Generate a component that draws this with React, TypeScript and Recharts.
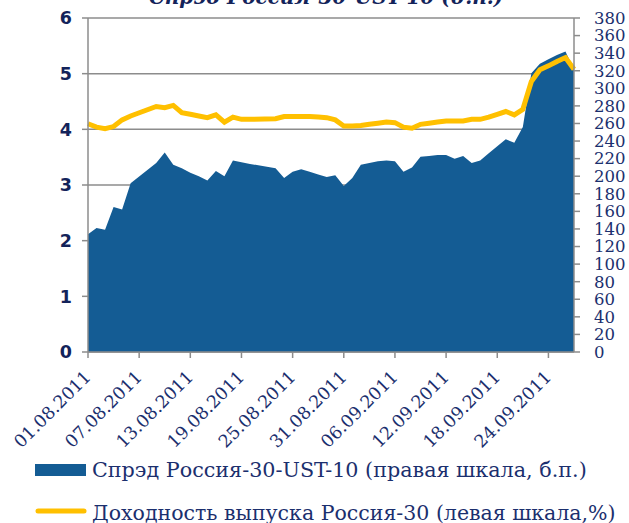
import React from 'react';
import {
  ComposedChart,
  Area,
  Line,
  XAxis,
  YAxis,
  CartesianGrid,
  Legend,
} from 'recharts';

// Day offsets from 01.08.2011
const dayIndex = [
  0, 1, 2, 3, 4, 5, 8, 9, 10, 11, 12, 13, 14, 15, 16, 17, 18, 19, 22, 23, 24, 25,
  26, 27, 28, 29, 30, 31, 32, 33, 34, 35, 36, 37, 38, 39, 40, 41, 42, 43, 44, 45,
  46, 47, 48, 49, 50, 51, 52, 53, 54, 55, 56, 57,
];

// Spread Russia-30 vs UST-10, bp (right axis)
const spreadBp = [
  134, 141, 139, 165, 162, 192, 215, 227, 213, 209, 204, 200, 195, 206, 200, 218, 216, 214, 209, 198, 205, 208,
  205, 202, 199, 201, 189, 198, 213, 215, 217, 218, 217, 205, 210, 222, 223, 224, 224, 220, 223, 215,
  218, 226, 234, 242, 238, 256, 317, 328, 333, 338, 342, 321,
];

// Russia-30 yield, % (left axis)
const yieldPct = [
  4.1, 4.04, 4.01, 4.05, 4.17, 4.24, 4.41, 4.39, 4.43, 4.3, 4.27, 4.24, 4.21, 4.26, 4.13, 4.22, 4.18, 4.18, 4.19, 4.23, 4.23, 4.23,
  4.23, 4.22, 4.21, 4.17, 4.06, 4.06, 4.07, 4.09, 4.11, 4.13, 4.12, 4.04, 4.02, 4.09, 4.11, 4.13, 4.15, 4.15, 4.15, 4.18,
  4.18, 4.22, 4.27, 4.32, 4.26, 4.36, 4.86, 5.07, 5.14, 5.22, 5.29, 5.08,
];

const xTickDays = [0, 6, 12, 18, 24, 30, 36, 42, 48, 54];
const xTickLabels = [
  '01.08.2011', '07.08.2011', '13.08.2011', '19.08.2011', '25.08.2011',
  '31.08.2011', '06.09.2011', '12.09.2011', '18.09.2011', '24.09.2011',
];
const leftTicks = [0, 1, 2, 3, 4, 5, 6];
const rightTicks = [
  0, 20, 40, 60, 80, 100, 120, 140, 160, 180, 200, 220, 240, 260, 280, 300, 320, 340, 360, 380,
];

const titleText = 'Спрэд Россия-30-UST-10 (б.п.)';
const spreadName = 'Спрэд Россия-30-UST-10 (правая шкала, б.п.)';
const yieldName = 'Доходность выпуска Россия-30 (левая шкала,%)';

const data = dayIndex.map((d, i) => ({ d, spread: spreadBp[i], yld: yieldPct[i] }));

const NAVY = '#1b2f6e';
const NAVY_DARK = '#13235a';
const BLUE = '#145c94';
const YELLOW = '#ffc000';
const GRAY = '#8c8c8c';
const SERIF = '"DejaVu Serif", "Liberation Serif", serif';

const XTick = (props: any) => {
  const { x, payload } = props;
  const idx = xTickDays.indexOf(payload.value);
  const label = idx >= 0 ? xTickLabels[idx] : '';
  const ax = x + 4;
  const ay = 378;
  return (
    <text
      x={ax}
      y={ay}
      transform={`rotate(-45, ${ax}, ${ay})`}
      textAnchor="end"
      fontFamily={SERIF}
      fontSize={17.5}
      fill={NAVY}
    >
      {label}
    </text>
  );
};

const LegendContent = () => (
  <svg width={629} height={83} style={{ display: 'block' }}>
    <rect x={35} y={24} width={51} height={12} fill={BLUE} />
    <text x={92} y={37} fontFamily={SERIF} fontSize={20.7} fill={NAVY}>
      {spreadName}
    </text>
    <line x1={38} y1={71} x2={84} y2={71} stroke={YELLOW} strokeWidth={5} strokeLinecap="round" />
    <text x={92} y={80} fontFamily={SERIF} fontSize={20.5} fill={NAVY}>
      {yieldName}
    </text>
  </svg>
);

export default function App() {
  return (
    <div style={{ position: 'absolute', left: 0, top: 0, width: 629, height: 523, background: '#fff' }}>
      <ComposedChart
        width={629}
        height={523}
        data={data}
        margin={{ top: 18, right: 0, bottom: 0, left: 0 }}
      >
        <CartesianGrid yAxisId="left" vertical={false} stroke={GRAY} strokeWidth={1.5} />
        <XAxis
          dataKey="d"
          type="number"
          domain={[0, 57]}
          ticks={xTickDays}
          interval={0}
          height={88}
          tick={<XTick />}
          tickSize={6}
          tickLine={{ stroke: GRAY, strokeWidth: 1.5 }}
          axisLine={{ stroke: GRAY, strokeWidth: 1.5 }}
        />
        <YAxis
          yAxisId="left"
          domain={[0, 6]}
          ticks={leftTicks}
          interval={0}
          width={88}
          tickSize={6}
          tickMargin={10}
          tickLine={{ stroke: GRAY, strokeWidth: 1.5 }}
          axisLine={{ stroke: GRAY, strokeWidth: 1.5 }}
          tick={{ fill: NAVY_DARK, fontFamily: '"DejaVu Sans", Verdana, sans-serif', fontWeight: 'bold', fontSize: 17.5 }}
        />
        <YAxis
          yAxisId="right"
          orientation="right"
          domain={[0, 380]}
          ticks={rightTicks}
          interval={0}
          width={55}
          tickSize={6}
          tickMargin={14}
          tickLine={{ stroke: GRAY, strokeWidth: 1.5 }}
          axisLine={{ stroke: GRAY, strokeWidth: 1.5 }}
          tick={{ fill: NAVY, fontFamily: SERIF, fontSize: 16.5 }}
        />
        <Area
          yAxisId="right"
          dataKey="spread"
          type="linear"
          fill={BLUE}
          fillOpacity={1}
          stroke="none"
          isAnimationActive={false}
          name={spreadName}
        />
        <Line
          yAxisId="left"
          dataKey="yld"
          type="linear"
          stroke={YELLOW}
          strokeWidth={5}
          dot={false}
          activeDot={false}
          isAnimationActive={false}
          name={yieldName}
        />
        <Legend
          layout="vertical"
          align="center"
          verticalAlign="bottom"
          content={<LegendContent />}
          wrapperStyle={{ position: 'absolute', left: 0, top: 440, width: 629, height: 83 }}
        />
        <text
          x={326}
          y={4}
          textAnchor="middle"
          fontFamily={SERIF}
          fontStyle="italic"
          fontWeight="bold"
          fontSize={20}
          fill={NAVY_DARK}
        >
          {titleText}
        </text>
      </ComposedChart>
    </div>
  );
}
